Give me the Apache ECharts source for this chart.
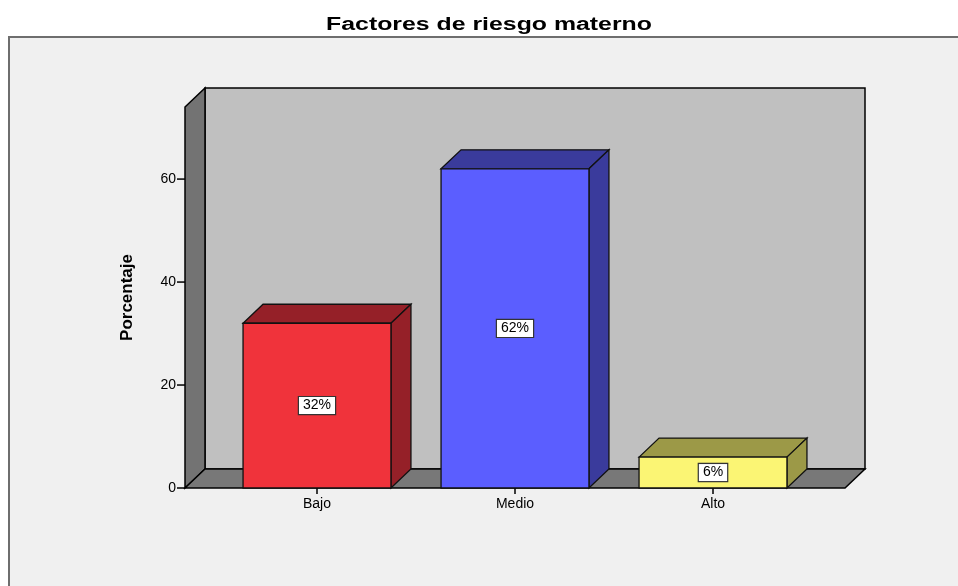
<!DOCTYPE html>
<html>
<head>
<meta charset="utf-8">
<script src="https://cdn.jsdelivr.net/npm/echarts@6/dist/echarts.min.js"></script>
<style>
  html, body { margin: 0; padding: 0; background: #ffffff; }
  #chart { width: 958px; height: 586px; }
</style>
</head>
<body>
<div id="chart"></div>
<script>
// data
const categories = ['Bajo', 'Medio', 'Alto'];
const percentages = [32, 62, 6];
const yTicks = [0, 20, 40, 60];
const frontColors = ['#f0333b', '#5b5eff', '#fbf574'];
const sideColors = ['#952028', '#3a3b9c', '#9c9947'];

const DX = 20, DY = 19;        // 3D depth offset
const BAR_W = 0.747;           // bar width in category units
const FONT = 'Arial, "Liberation Sans", sans-serif';

const chart = echarts.init(document.getElementById('chart'));

function renderWalls(params, api) {
  const cs = params.coordSys;
  const x0 = cs.x, x1 = cs.x + cs.width;
  const y0 = cs.y, y1 = cs.y + cs.height;
  const line = { stroke: '#000', lineWidth: 1.5 };
  const ticks = yTicks.map(t => {
    const p = api.coord([-2 / 3, t]);
    return { type: 'line', shape: { x1: p[0] - 8, y1: p[1], x2: p[0], y2: p[1] },
             style: { stroke: '#000', lineWidth: 1.5 } };
  });
  return {
    type: 'group',
    children: [
      { type: 'polygon', shape: { points: [[x0 + DX, y0 - DY], [x1 + DX, y0 - DY], [x1 + DX, y1 - DY], [x0 + DX, y1 - DY]] },
        style: Object.assign({ fill: '#c0c0c0' }, line) },
      { type: 'polygon', shape: { points: [[x0, y0], [x0 + DX, y0 - DY], [x0 + DX, y1 - DY], [x0, y1]] },
        style: Object.assign({ fill: '#737373' }, line) },
      { type: 'polygon', shape: { points: [[x0, y1], [x0 + DX, y1 - DY], [x1 + DX, y1 - DY], [x1, y1]] },
        style: Object.assign({ fill: '#787878' }, line) }
    ].concat(ticks)
  };
}

function renderBar(params, api) {
  const i = params.dataIndex;
  const x = api.value(0), v = api.value(1);
  const pl = api.coord([x - BAR_W / 2, v]);
  const pr = api.coord([x + BAR_W / 2, 0]);
  const mid = api.coord([x, v / 2]);
  const l = pl[0], t = pl[1], r = pr[0], b = pr[1];
  const line = { stroke: '#111', lineWidth: 1.3 };
  return {
    type: 'group',
    children: [
      { type: 'polygon', shape: { points: [[l, t], [l + DX, t - DY], [r + DX, t - DY], [r, t]] },
        style: Object.assign({ fill: sideColors[i] }, line) },
      { type: 'polygon', shape: { points: [[r, t], [r + DX, t - DY], [r + DX, b - DY], [r, b]] },
        style: Object.assign({ fill: sideColors[i] }, line) },
      { type: 'rect', shape: { x: l, y: t, width: r - l, height: b - t },
        style: Object.assign({ fill: frontColors[i] }, line) },
      { type: 'text', x: mid[0], y: mid[1],
        style: {
          text: percentages[i] + '%', fill: '#000', font: '14px ' + FONT,
          align: 'center', verticalAlign: 'middle',
          backgroundColor: '#fff', borderColor: '#333', borderWidth: 1.2, padding: [2, 4, 1, 4]
        } }
    ]
  };
}

chart.setOption({
  animation: false,
  backgroundColor: '#ffffff',
  graphic: [
    { type: 'rect', z: -10, shape: { x: 9, y: 37, width: 1000, height: 600 },
      style: { fill: '#f0f0f0', stroke: '#6e6e6e', lineWidth: 2 } },
    { type: 'text', x: 489, y: 25, scaleX: 1.38,
      style: { text: 'Factores de riesgo materno', font: 'bold 18px ' + FONT, fill: '#000',
               align: 'center', verticalAlign: 'middle' } }
  ],
  grid: { left: 185, top: 107, width: 660, height: 381 },
  xAxis: {
    type: 'value', min: -2 / 3, max: 8 / 3,
    axisLine: { show: false },
    splitLine: { show: false },
    axisTick: { show: true, customValues: [0, 1, 2], length: 6, lineStyle: { color: '#000', width: 1.5 } },
    axisLabel: {
      customValues: [0, 1, 2], margin: 9,
      formatter: v => categories[Math.round(v)] || '',
      color: '#000', fontSize: 14, fontFamily: FONT
    }
  },
  yAxis: {
    type: 'value', min: 0, max: 74,
    name: 'Porcentaje', nameLocation: 'middle', nameGap: 49, nameRotate: 90,
    nameTextStyle: { color: '#000', fontSize: 17, fontWeight: 'bold', fontFamily: FONT },
    axisLine: { show: true, lineStyle: { color: '#000', width: 1.5 } },
    splitLine: { show: false },
    axisTick: { show: false },
    axisLabel: { customValues: yTicks, margin: 9, color: '#000', fontSize: 14, fontFamily: FONT }
  },
  series: [
    { type: 'custom', renderItem: renderWalls, data: [[0, 0]], silent: true, z: 1, clip: false },
    { type: 'custom', renderItem: renderBar, z: 2, clip: false,
      data: percentages.map((p, i) => [i, p]) }
  ]
});
</script>
</body>
</html>
